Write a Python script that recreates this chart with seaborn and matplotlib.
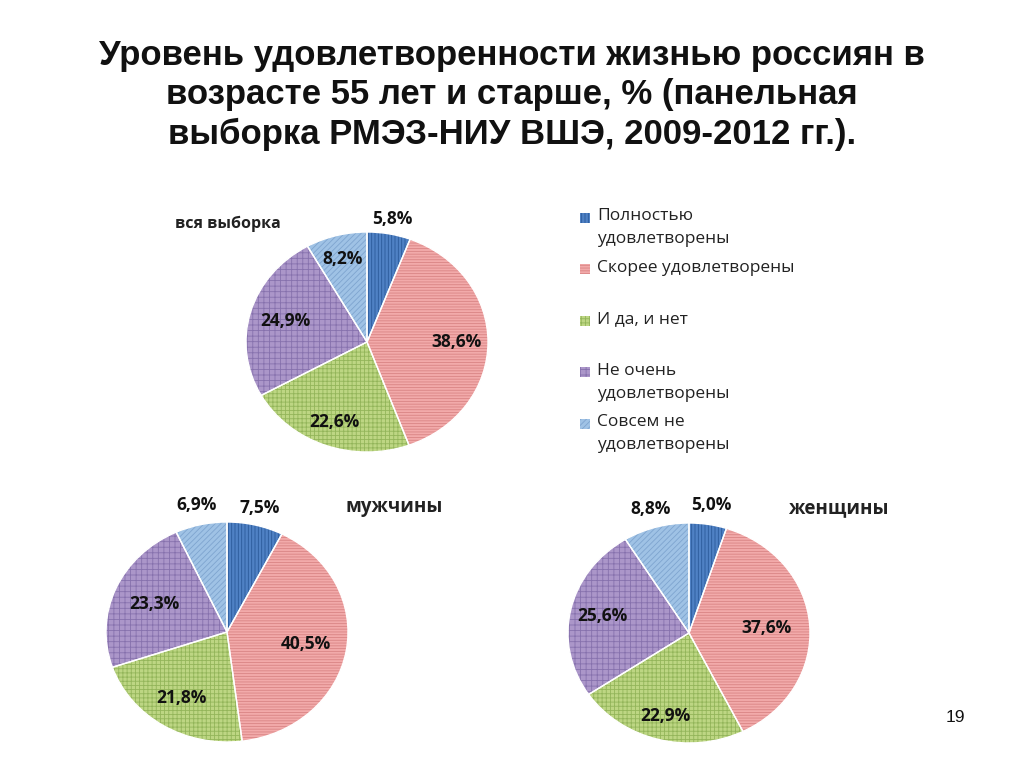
import matplotlib
matplotlib.use("Agg")
import matplotlib.pyplot as plt
from matplotlib.patches import Rectangle
import numpy as np
import seaborn as sns

sns.set_theme(style="white")
plt.rcParams['font.family'] = ['Open Sans', 'DejaVu Sans']
plt.rcParams['hatch.linewidth'] = 0.6

# ---------------- data ----------------
title = "Уровень удовлетворенности жизнью россиян в\nвозрасте 55 лет и старше, % (панельная\nвыборка РМЭЗ-НИУ ВШЭ, 2009-2012 гг.)."
categories = ["Полностью\nудовлетворены", "Скорее удовлетворены", "И да, и нет",
              "Не очень\nудовлетворены", "Совсем не\nудовлетворены"]
all_values = [5.8, 38.6, 22.6, 24.9, 8.2]
men_values = [7.5, 40.5, 21.8, 23.3, 6.9]
women_values = [5.0, 37.6, 22.9, 25.6, 8.8]
group_names = ["вся выборка", "мужчины", "женщины"]
page_number = "19"

# ---------------- styles ----------------
face_colors = ["#4f81c4", "#f2aaaa", "#bdd683", "#ab96c9", "#9fc2e5"]
hatch_colors = ["#2a5a9a", "#d98484", "#93b55a", "#8671ad", "#7ea4cf"]
hatches = ["|||||", "------", "++++", "+++", "//////"]

fig = plt.figure(figsize=(10.24, 7.67), dpi=100)
fig.patch.set_facecolor("white")

W, H = 1024, 767


def px_axes(cx, cy, rx, ry):
    return fig.add_axes([(cx - rx) / W, (H - cy - ry) / H, 2 * rx / W, 2 * ry / H])


def draw_pie(ax, values, label_dist):
    wedges, _ = ax.pie(values, startangle=90, counterclock=False,
                       colors=face_colors,
                       wedgeprops=dict(linewidth=0))
    for w, hc, h in zip(wedges, hatch_colors, hatches):
        w.set_hatch(h)
        w.set_edgecolor(hc)
        w.set_linewidth(0)
    ax.pie(values, startangle=90, counterclock=False,
           wedgeprops=dict(fill=False, edgecolor="white", linewidth=1.0))
    total = sum(values)
    cum = 0.0
    for v, d in zip(values, label_dist):
        mid = 90 - (cum + v / 2) / total * 360
        cum += v
        x = d * np.cos(np.radians(mid))
        y = d * np.sin(np.radians(mid))
        ax.text(x, y, f"{v:.1f}%".replace(".", ","), ha="center", va="center",
                fontsize=12.5, fontweight="bold", color="#111111")
    ax.set_aspect("auto")
    ax.set_xlim(-1, 1)
    ax.set_ylim(-1, 1)
    ax.axis("off")


ax_all = px_axes(367, 342, 121, 110)
draw_pie(ax_all, all_values, [1.14, 0.74, 0.78, 0.70, 0.78])
ax_men = px_axes(227, 632, 121, 110)
draw_pie(ax_men, men_values, [1.16, 0.66, 0.71, 0.65, 1.18])
ax_women = px_axes(689, 633, 121, 110)
draw_pie(ax_women, women_values, [1.18, 0.64, 0.78, 0.73, 1.17])

# title
fig.text(512 / W, 1 - 95 / H, title, ha="center", va="center", fontsize=25,
         fontweight="bold", family=["Liberation Sans", "DejaVu Sans"],
         linespacing=1.25, color="#111111")

# group labels
fig.text(228 / W, 1 - 224 / H, group_names[0], ha="center", va="center",
         fontsize=11.5, fontweight="bold", color="#222222")
fig.text(394 / W, 1 - 507 / H, group_names[1], ha="center", va="center",
         fontsize=13.5, fontweight="bold", color="#222222")
fig.text(838 / W, 1 - 508 / H, group_names[2], ha="center", va="center",
         fontsize=13.5, fontweight="bold", color="#222222")

# legend (manual, Excel-like spacing)
leg_y0, leg_step = 218, 51.5
for i, (lab, fc, hc, h) in enumerate(zip(categories, face_colors, hatch_colors, hatches)):
    y = leg_y0 + i * leg_step
    rect = Rectangle((580 / W, 1 - (y + 5) / H), 10 / W, 10 / H,
                     transform=fig.transFigure, facecolor=fc, edgecolor=hc,
                     hatch=h, linewidth=0)
    fig.patches.append(rect)
    fig.text(597 / W, 1 - (y - 10) / H, lab, ha="left", va="top", fontsize=12.5,
             color="#222222", linespacing=1.6)

fig.text(955 / W, 1 - 718 / H, page_number, ha="center", va="center", fontsize=12.5,
         family=["Liberation Sans", "DejaVu Sans"], color="#111111")

fig.savefig("out.png", dpi=100, facecolor="white")
